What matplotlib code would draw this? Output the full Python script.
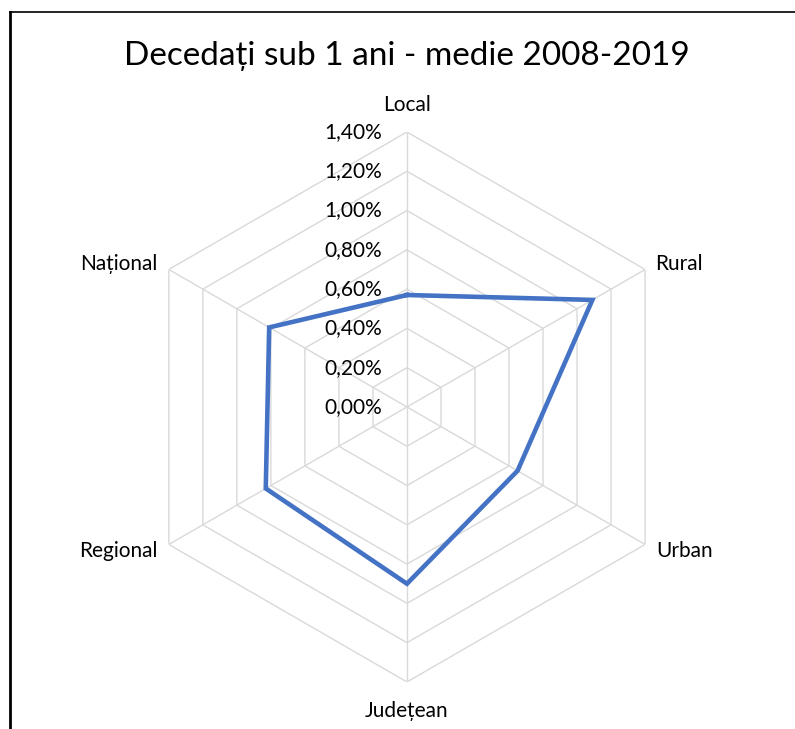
import numpy as np
import matplotlib
matplotlib.use("Agg")
import matplotlib.pyplot as plt
from matplotlib.lines import Line2D

# date
categories = ["Local", "Rural", "Urban", "Județean", "Regional", "Național"]
values = [0.57, 1.09, 0.65, 0.90, 0.83, 0.81]  # procente
rings = [0.0, 0.2, 0.4, 0.6, 0.8, 1.0, 1.2, 1.4]
ring_labels = ["0,00%", "0,20%", "0,40%", "0,60%", "0,80%", "1,00%", "1,20%", "1,40%"]
title = "Decedați sub 1 ani - medie 2008-2019"

plt.rcParams['font.family'] = ['Lato', 'DejaVu Sans']

fig = plt.figure(figsize=(7.95, 7.29), dpi=100)
ax = fig.add_axes([0.166, 0.0645, 0.6918, 0.7545], projection='polar')
ax.set_theta_zero_location('N')
ax.set_theta_direction(-1)
ax.set_ylim(0, 1.4)
ax.grid(False)
ax.set_xticks([])
ax.set_yticks([])
ax.spines['polar'].set_visible(False)
ax.patch.set_alpha(0)

n = len(categories)
theta = np.arange(n) * 2 * np.pi / n
theta_closed = np.append(theta, theta[0])

# siatka heksagonalna
for r in rings[1:]:
    ax.plot(theta_closed, [r] * (n + 1), color='#D9D9D9', lw=1.0, zorder=1)
for t in theta:
    ax.plot([t, t], [0, rings[-1]], color='#D9D9D9', lw=1.0, zorder=1)

# seria
ax.plot(theta_closed, values + [values[0]], color='#4472C4', lw=3.3,
        solid_joinstyle='miter', zorder=3)

# etichete axa radiala
for r, lab in zip(rings, ring_labels):
    ax.annotate(lab, xy=(0, r), xytext=(-25, 0), textcoords='offset pixels',
                ha='right', va='center', fontsize=15, color='#000000', zorder=4)

# etichete categorii
offsets = [(0, 27, 'center'), (10, 5, 'left'), (11, -7, 'left'),
           (0, -29, 'center'), (-11, -7, 'right'), (-11, 5, 'right')]
for t, lab, (dx, dy, ha) in zip(theta, categories, offsets):
    ax.annotate(lab, xy=(t, rings[-1]), xytext=(dx, dy), textcoords='offset pixels',
                ha=ha, va='center', fontsize=15, color='#000000')

fig.text(0.512, 1 - 56 / 729, title, ha='center', va='center', fontsize=24, color='#000000')

# ramka
fig.add_artist(Line2D([10 / 795, 10 / 795], [0, 1 - 12 / 729], color='black', lw=2.0,
                      transform=fig.transFigure))
fig.add_artist(Line2D([10 / 795, 1], [1 - 12 / 729, 1 - 12 / 729], color='black', lw=1.2,
                      transform=fig.transFigure))

fig.savefig("out.png", dpi=100)
